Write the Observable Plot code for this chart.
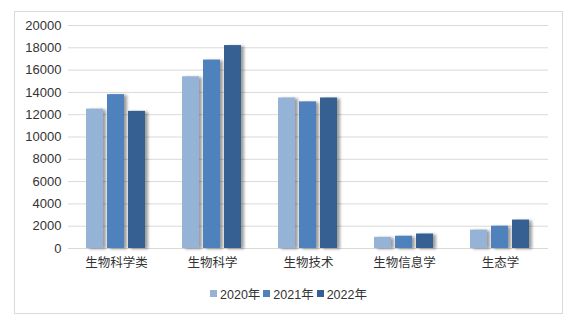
<!DOCTYPE html>
<html>
<head>
<meta charset="utf-8">
<script src="https://cdn.jsdelivr.net/npm/d3@7"></script>
<script src="https://cdn.jsdelivr.net/npm/@observablehq/plot@0.6"></script>
<style>
  html, body { margin: 0; padding: 0; background: #fff; }
  body { width: 575px; height: 319px; position: relative; overflow: hidden;
         font-family: "Liberation Sans", "Noto Sans CJK SC", sans-serif; }
  #frame { position: absolute; left: 14px; top: 11px; width: 549px; height: 303px;
           box-sizing: border-box; border: 1px solid #d9d9d9; }
  #chart { position: absolute; left: 0; top: 0; }
  g[aria-label="bar"] rect { filter: drop-shadow(3px 1px 1.5px rgba(0,0,0,0.38)); }
  #legend { position: absolute; top: 284px; left: 0; width: 575px; display: flex;
            justify-content: center; gap: 3px; font-size: 12.5px; color: #333;
            padding-left: 2px; box-sizing: border-box; }
  #legend .item { display: flex; align-items: center; }
  #legend .sw { width: 7px; height: 7px; margin-right: 3px; display: inline-block; }
</style>
</head>
<body>
<div id="frame"></div>
<div id="chart"></div>
<div id="legend"></div>
<script>
const categories = ["生物科学类", "生物科学", "生物技术", "生物信息学", "生态学"];
const years = ["2020年", "2021年", "2022年"];
const values2020 = [12500, 15400, 13500, 1000, 1650];
const values2021 = [13800, 16900, 13150, 1100, 2000];
const values2022 = [12300, 18200, 13500, 1300, 2550];
const yTicks = [0, 2000, 4000, 6000, 8000, 10000, 12000, 14000, 16000, 18000, 20000];
const colors = ["#95b3d7", "#4f81bd", "#366092"];

const series = [values2020, values2021, values2022];
const data = [];
categories.forEach((c, i) => {
  years.forEach((yr, j) => data.push({category: c, year: yr, value: series[j][i]}));
});

const plot = Plot.plot({
  width: 575,
  height: 280,
  marginLeft: 68,
  marginRight: 27,
  marginTop: 25,
  marginBottom: 32,
  style: {fontFamily: '"Liberation Sans", "Noto Sans CJK SC", sans-serif', fontSize: "13px", color: "#333", background: "transparent"},
  fx: {domain: categories, padding: 0, label: null, tickSize: 0, tickPadding: 10, axis: "bottom"},
  x: {domain: years, axis: null, paddingInner: 0.19, paddingOuter: 0.88},
  y: {domain: [0, 20000], ticks: yTicks, tickSize: 0, tickPadding: 7, label: null, tickFormat: d => String(d)},
  color: {domain: years, range: colors},
  marks: [
    Plot.ruleY(yTicks, {stroke: "#d9d9d9", strokeWidth: 1}),
    Plot.barY(data, {fx: "category", x: "year", y: "value", fill: "year"})
  ]
});
plot.querySelectorAll('g[aria-label="fx-axis tick label"] text, g[aria-label="fx-axis"] text').forEach(t => t.style.fontSize = "12.5px");
document.getElementById("chart").appendChild(plot);

const legend = document.getElementById("legend");
years.forEach((yr, j) => {
  const it = document.createElement("span");
  it.className = "item";
  const sw = document.createElement("span");
  sw.className = "sw";
  sw.style.background = colors[j];
  it.appendChild(sw);
  it.appendChild(document.createTextNode(yr));
  legend.appendChild(it);
});
</script>
</body>
</html>
